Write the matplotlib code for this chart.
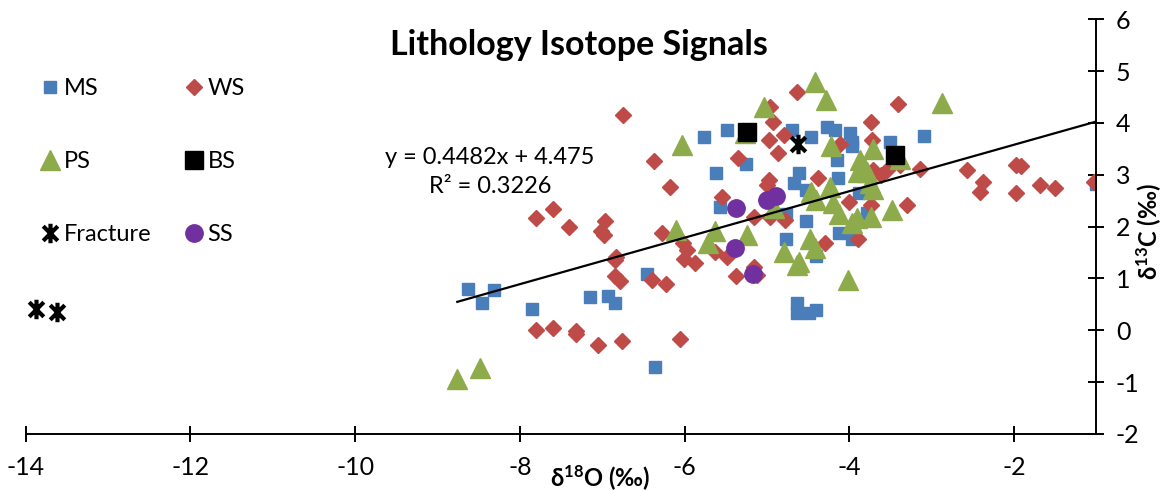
import numpy as np
import matplotlib
matplotlib.use('Agg')
import matplotlib.pyplot as plt
from matplotlib.path import Path

plt.rcParams['font.family'] = ['Lato', 'DejaVu Sans']
plt.rcParams['axes.unicode_minus'] = False
plt.rcParams['mathtext.fontset'] = 'custom'
plt.rcParams['mathtext.rm'] = 'Lato'
plt.rcParams['mathtext.bf'] = 'Lato:bold'

# delta-18O / delta-13C pairs per lithology
ms_x = [-8.63, -8.46, -8.32, -7.85, -7.15, -6.93, -6.84, -6.46, -6.36, -5.76, -5.48, -5.62, -5.26, -5.57,
        -4.70, -4.46, -4.61, -4.67, -4.52, -4.77, -4.52, -4.77, -4.40, -4.27, -4.17, -3.99, -3.97, -3.97,
        -4.15, -4.14, -3.88, -4.12, -3.97, -3.50, -3.09, -1.00, -4.63, -4.63, -4.49, -4.40, -3.78]
ms_y = [0.79, 0.53, 0.77, 0.41, 0.64, 0.66, 0.53, 1.09, -0.70, 3.73, 3.87, 3.04, 3.20, 2.38,
        3.86, 3.72, 3.04, 2.84, 2.70, 2.25, 2.11, 1.77, 1.43, 3.92, 3.86, 3.81, 3.64, 3.55,
        3.28, 2.93, 2.64, 1.87, 1.77, 3.64, 3.75, 2.83, 0.53, 0.34, 0.34, 0.39, 2.26]

ws_x = [-6.75, -6.37, -6.18, -7.80, -7.60, -7.40, -6.97, -7.01, -6.98, -6.28, -6.83, -6.85, -6.84, -6.78,
        -6.40, -6.23, -5.54, -5.35, -4.98, -5.00, -4.96, -4.93, -4.97, -4.79, -4.86, -4.64, -5.16, -4.96,
        -4.78, -6.02, -5.97, -6.01, -5.87, -5.63, -5.49, -5.37, -5.16, -5.12, -7.80, -7.60, -7.32, -7.32,
        -7.05, -6.76, -6.05, -3.41, -3.74, -3.72, -4.11, -4.38, -3.71, -3.61, -3.54, -3.38, -3.14, -2.57,
        -2.38, -2.41, -1.97, -1.91, -1.97, -1.68, -1.50, -1.03, -4.00, -3.74, -3.30, -4.29, -3.90]
ws_y = [4.16, 3.27, 2.76, 2.16, 2.34, 1.99, 2.10, 1.92, 1.83, 1.88, 1.42, 1.35, 1.04, 0.95,
        0.97, 0.90, 2.57, 3.33, 2.90, 2.80, 4.31, 4.02, 3.67, 3.76, 3.42, 4.60, 2.19, 2.19,
        2.12, 1.69, 1.54, 1.38, 1.29, 1.51, 1.42, 1.04, 1.22, 1.06, 0.00, 0.05, -0.01, -0.08,
        -0.29, -0.21, -0.16, 4.36, 4.02, 3.67, 3.60, 2.94, 3.09, 2.99, 3.09, 3.19, 3.12, 3.09,
        2.86, 2.67, 3.19, 3.17, 2.65, 2.81, 2.74, 2.86, 2.48, 2.41, 2.41, 1.69, 1.77]

ps_x = [-8.76, -8.49, -6.03, -5.04, -5.27, -6.11, -5.63, -5.72, -5.24, -4.79, -4.92, -4.64, -4.42, -4.28,
        -2.88, -4.22, -3.71, -3.87, -3.89, -3.79, -3.71, -3.39, -4.46, -4.24, -4.40, -4.20, -4.12, -3.97,
        -3.91, -3.74, -3.48, -4.48, -4.42, -4.61, -4.01, -3.82, -3.75]
ps_y = [-0.93, -0.72, 3.57, 4.31, 3.81, 1.93, 1.91, 1.69, 1.83, 1.51, 2.35, 1.25, 4.79, 4.44,
        4.38, 3.55, 3.49, 3.28, 3.06, 3.06, 2.73, 3.31, 2.67, 2.77, 2.51, 2.45, 2.25, 2.06,
        2.16, 2.19, 2.32, 1.77, 1.58, 1.32, 0.97, 3.15, 2.85]

bs_x = [-5.24, -3.44]
bs_y = [3.83, 3.39]

fr_x = [-13.87, -13.62, -4.62]
fr_y = [0.42, 0.35, 3.60]

ss_x = [-5.37, -5.00, -4.89, -5.39, -5.17]
ss_y = [2.35, 2.51, 2.59, 1.58, 1.09]

slope, intercept, r2 = 0.4482, 4.475, 0.3226

# asterisk: vertical bar plus an X
star = Path([(0, -1), (0, 1), (-0.75, -0.75), (0.75, 0.75), (-0.75, 0.75), (0.75, -0.75)],
            [Path.MOVETO, Path.LINETO] * 3)

fig = plt.figure(figsize=(11.64, 4.91), dpi=100)
ax = fig.add_axes([0.0221, 0.1161, 0.9198, 0.8448])

ms, = ax.plot(ms_x, ms_y, 's', ms=8.4, color='#4A7EBB', mec='#4A7EBB', ls='none', label='MS')
ws, = ax.plot(ws_x, ws_y, 'D', ms=8.6, color='#BE4B48', mec='#BE4B48', ls='none', label='WS')
ps, = ax.plot(ps_x, ps_y, '^', ms=14, color='#8EAB4C', mec='#8EAB4C', ls='none', label='PS')
bs, = ax.plot(bs_x, bs_y, 's', ms=13.5, color='black', ls='none', label='BS')
fr, = ax.plot(fr_x, fr_y, marker=star, ms=14, mew=3, color='black', mfc='none', ls='none', label='Fracture')
ss, = ax.plot(ss_x, ss_y, 'o', ms=12.5, color='#7030A0', mec='#7030A0', ls='none', label='SS')

# linear trend over the lithology data
all_x = np.concatenate([ms_x, ws_x, ps_x, bs_x, ss_x])
tx = np.array([all_x.min(), all_x.max()])
ax.plot(tx, slope * tx + intercept, color='black', lw=1.6, zorder=5)

ax.set_xlim(-14, -1)
ax.set_ylim(-2, 6)
ax.set_xticks(np.arange(-14, -1, 2))
ax.set_yticks(np.arange(-2, 7, 1))
for s in ['top', 'left']:
    ax.spines[s].set_visible(False)
for s in ['right', 'bottom']:
    ax.spines[s].set_linewidth(1.4)
ax.yaxis.tick_right()
ax.tick_params(axis='both', direction='inout', length=12, width=1.4, labelsize=18)
ax.tick_params(axis='x', pad=10)
ax.tick_params(axis='y', pad=8)

fig.text(579 / 1164, 1 - 45 / 491, 'Lithology Isotope Signals', ha='center', va='center',
         fontsize=24.5, fontweight='bold')
fig.text(490 / 1164, 1 - 172 / 491, f'y = {slope}x + {intercept}\nR² = {r2}', ha='center', va='center',
         fontsize=17, linespacing=1.45)
fig.text(600 / 1164, 1 - 478 / 491, r'δ$\mathbf{^{18}}$O (‰)', ha='center', va='center',
         fontsize=17, fontweight='bold')
fig.text(1149 / 1164, 1 - 232 / 491, r'δ$\mathbf{^{13}}$C (‰)', ha='center', va='center', fontsize=17,
         fontweight='bold', rotation=90)

fig.legend([ms, ps, fr, ws, bs, ss], ['MS', 'PS', 'Fracture', 'WS', 'BS', 'SS'], ncol=2,
           loc='upper left', bbox_to_anchor=(40.6 / 1164, 1 - 78 / 491), frameon=False,
           fontsize=17, handlelength=0.8, handletextpad=0.19, labelspacing=2.2,
           columnspacing=1.38, borderpad=0, borderaxespad=0)

fig.savefig('out.png', dpi=100)
